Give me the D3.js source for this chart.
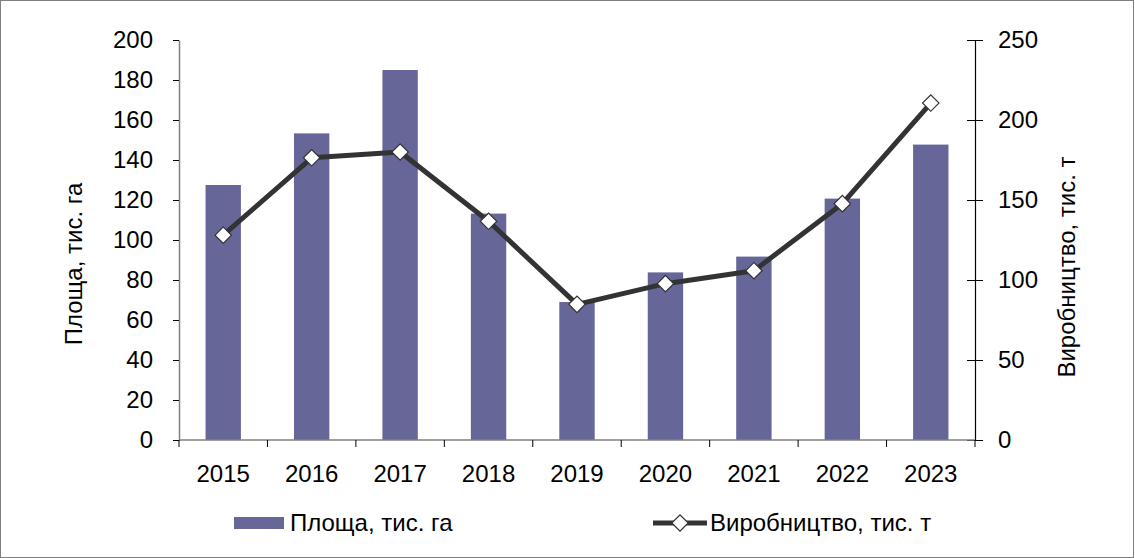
<!DOCTYPE html>
<html>
<head>
<meta charset="utf-8">
<script src="https://cdn.jsdelivr.net/npm/d3@7"></script>
<style>
  body { margin: 0; background: #fff; }
  svg text { font-family: 'Liberation Sans', Arial, sans-serif; fill: #000; }
</style>
</head>
<body>
<div id="chart"><svg></svg></div>
<script>
// chart data
const years = ['2015', '2016', '2017', '2018', '2019', '2020', '2021', '2022', '2023']
const area = [127.5, 153.3, 185, 113.2, 69, 83.8, 91.7, 120.7, 147.7]
const production = [128, 176.4, 180, 136.7, 84.8, 97.7, 105.8, 147.7, 210.6]
const leftTicks = [0, 20, 40, 60, 80, 100, 120, 140, 160, 180, 200]
const rightTicks = [0, 50, 100, 150, 200, 250]
const areaLabel = 'Площа, тис. га'
const prodLabel = 'Виробництво, тис. т'

const width = 1135
const height = 558
const plot = { left: 179, right: 975, top: 40, bottom: 440 }
const fontSize = '24px'

const svg = d3.select('#chart svg')
  .attr('width', width)
  .attr('height', height)

// outer frame
svg.append('rect')
  .attr('x', 0.5).attr('y', 0.5)
  .attr('width', width - 2).attr('height', height - 1)
  .attr('fill', '#fff')
  .attr('stroke', '#7f7f7f')

const x = d3.scaleBand()
  .domain(years)
  .range([plot.left, plot.right])
  .paddingInner(0.6)
  .paddingOuter(0.3)

const xBand = d3.scaleBand().domain(years).range([plot.left, plot.right])

const yLeft = d3.scaleLinear().domain([0, 200]).range([plot.bottom, plot.top])
const yRight = d3.scaleLinear().domain([0, 250]).range([plot.bottom, plot.top])

// bars
svg.append('g')
  .selectAll('rect')
  .data(area)
  .join('rect')
  .attr('x', (d, i) => x(years[i]))
  .attr('y', d => yLeft(d))
  .attr('width', x.bandwidth())
  .attr('height', d => yLeft(0) - yLeft(d))
  .attr('fill', '#666699')

// left axis
const gl = svg.append('g')
  .attr('transform', `translate(${plot.left},0)`)
  .call(d3.axisLeft(yLeft).tickValues(leftTicks).tickSize(6).tickPadding(20).tickSizeOuter(0))
gl.select('.domain').attr('stroke', '#808080').attr('stroke-width', 1.5)
gl.selectAll('.tick line').attr('stroke', '#000')
gl.selectAll('.tick text').style('font-size', fontSize)

// right axis
const gr = svg.append('g')
  .attr('transform', `translate(${plot.right},0)`)
  .call(d3.axisRight(yRight).tickValues(rightTicks).tickSize(8).tickPadding(15).tickSizeOuter(0))
gr.select('.domain').attr('stroke', '#000').attr('stroke-width', 1.2)
gr.selectAll('.tick line').attr('x1', -8).attr('stroke', '#000')
gr.selectAll('.tick text').style('font-size', fontSize)

// bottom axis: ticks between categories
const gb = svg.append('g')
  .attr('transform', `translate(0,${plot.bottom})`)
gb.append('line')
  .attr('x1', plot.left).attr('x2', plot.right)
  .attr('stroke', '#808080').attr('stroke-width', 1.5)
const boundaries = years.map(d => xBand(d)).concat([plot.right])
gb.selectAll('line.tick')
  .data(boundaries)
  .join('line')
  .attr('class', 'tick')
  .attr('x1', d => d).attr('x2', d => d)
  .attr('y1', 0).attr('y2', 7)
  .attr('stroke', '#000')
gb.selectAll('text')
  .data(years)
  .join('text')
  .attr('x', d => xBand(d) + xBand.bandwidth() / 2)
  .attr('y', 42)
  .attr('text-anchor', 'middle')
  .style('font-size', fontSize)
  .text(d => d)

// production line
const line = d3.line()
  .x((d, i) => xBand(years[i]) + xBand.bandwidth() / 2)
  .y(d => yRight(d))
svg.append('path')
  .datum(production)
  .attr('d', line)
  .attr('fill', 'none')
  .attr('stroke', '#333333')
  .attr('stroke-width', 5)
  .attr('stroke-linejoin', 'round')

const diamond = d3.symbol().type(d3.symbolSquare).size(135)
svg.append('g')
  .selectAll('path')
  .data(production)
  .join('path')
  .attr('d', diamond)
  .attr('transform', (d, i) => `translate(${xBand(years[i]) + xBand.bandwidth() / 2},${yRight(d)}) rotate(45)`)
  .attr('fill', '#fff')
  .attr('stroke', '#333')
  .attr('stroke-width', 1.2)

// axis titles
svg.append('text')
  .attr('transform', 'translate(82,264) rotate(-90)')
  .attr('text-anchor', 'middle')
  .style('font-size', fontSize)
  .text(areaLabel)

svg.append('text')
  .attr('transform', 'translate(1075,267) rotate(-90)')
  .attr('text-anchor', 'middle')
  .style('font-size', fontSize)
  .text(prodLabel)

// legend
const lg = svg.append('g')
lg.append('rect')
  .attr('x', 234).attr('y', 517)
  .attr('width', 50).attr('height', 12)
  .attr('fill', '#666699')
lg.append('text')
  .attr('x', 290).attr('y', 531)
  .style('font-size', fontSize)
  .text(areaLabel)

lg.append('line')
  .attr('x1', 653).attr('x2', 707)
  .attr('y1', 523).attr('y2', 523)
  .attr('stroke', '#333').attr('stroke-width', 5)
lg.append('path')
  .attr('d', diamond)
  .attr('transform', 'translate(680,523) rotate(45)')
  .attr('fill', '#fff')
  .attr('stroke', '#333')
  .attr('stroke-width', 1.2)
lg.append('text')
  .attr('x', 710).attr('y', 531)
  .style('font-size', fontSize)
  .text(prodLabel)
</script>
</body>
</html>
